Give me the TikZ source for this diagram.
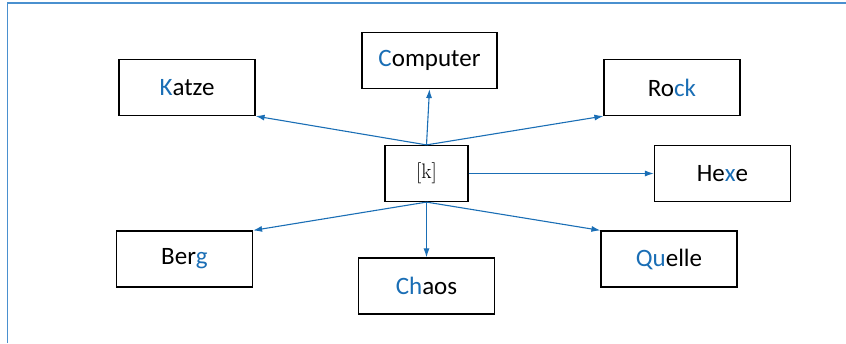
\documentclass[tikz,border=0pt]{standalone}
\usepackage{fontspec}
\setsansfont{Carlito}
\usetikzlibrary{arrows.meta}
\definecolor{kblue}{HTML}{1A6EB5}
\definecolor{frameblue}{HTML}{4A90CF}
\tikzset{
  word/.style={draw=black, line width=1.2pt, minimum width=136pt, minimum height=56pt, inner sep=0pt, font=\sffamily\fontsize{25}{29}\selectfont},
  center/.style={draw=black, line width=1.2pt, minimum width=83pt, minimum height=56pt, inner sep=0pt, font=\fontsize{21}{24}\selectfont},
  link/.style={draw=kblue, line width=1.1pt, -{Latex[length=9pt,width=6pt]}}
}
\newcommand{\hl}[1]{\textcolor{kblue}{#1}}
\begin{document}
\begin{tikzpicture}[x=1pt,y=-1pt]
\useasboundingbox (0,0) rectangle (846,343);
\draw[frameblue, line width=1.5pt] (7.5,343) -- (7.5,3) -- (846,3);
\node[center] (k) at (426.5,173.5) {[k]};
\node[word] (katze) at (187,87.5) {\hl{K}atze};
\node[word, minimum width=135pt] (computer) at (429.5,60.5) {\hl{C}omputer};
\node[word] (rock) at (672,87.5) {Ro\hl{ck}};
\node[word] (hexe) at (722.5,173.5) {He\hl{x}e};
\node[word] (berg) at (184.5,259) {Ber\hl{g}};
\node[word] (chaos) at (426.5,286) {\hl{Ch}aos};
\node[word] (quelle) at (669,259) {\hl{Qu}elle};
\draw[link] (k.north) -- (katze.south east);
\draw[link] (k.north) -- (computer.south);
\draw[link] (k.north) -- (rock.south west);
\draw[link] (k.east) -- (hexe.west);
\draw[link] (k.south) -- (berg.north east);
\draw[link] (k.south) -- (chaos.north);
\draw[link] (k.south) -- (quelle.north west);
\end{tikzpicture}
\end{document}
